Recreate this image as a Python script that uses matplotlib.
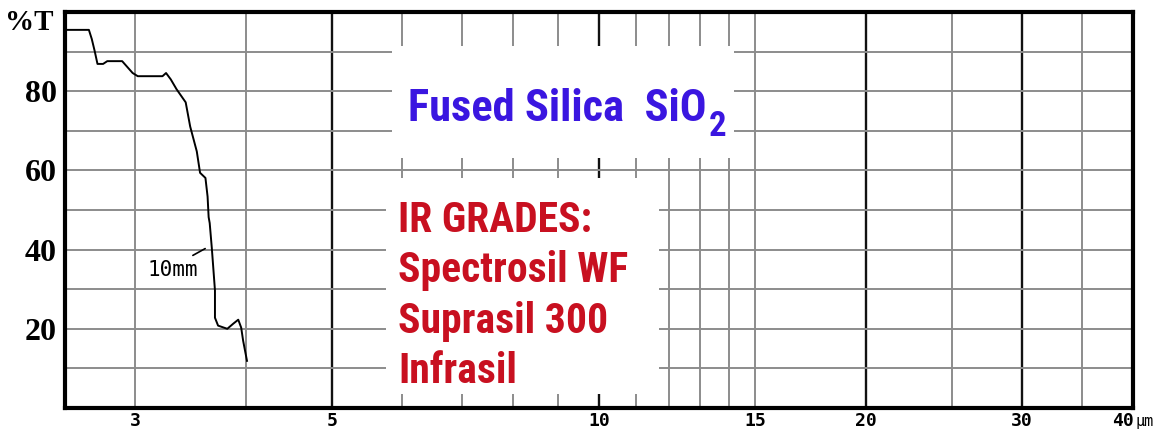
"""
Fused silica (SiO2) IR transmission chart.

%T of a 10 mm sample against wavelength on a log axis (2.5 - 40 um),
digitised from the vendor sheet, with the IR grade names overlaid.
"""

import matplotlib
matplotlib.use('Agg')
import matplotlib.pyplot as plt
import matplotlib.transforms as mtransforms
from matplotlib import font_manager
from matplotlib.patches import Rectangle
from matplotlib.ticker import FixedLocator, NullLocator

# --- Transmission curve (10 mm sample) ---
WAVELENGTH_UM = [2.51, 2.66, 2.68, 2.70, 2.72, 2.76, 2.79, 2.90, 2.98, 3.02,
                 3.22, 3.25, 3.29, 3.34, 3.42, 3.46, 3.52, 3.55, 3.60, 3.62,
                 3.63, 3.64, 3.66, 3.69, 3.69, 3.72, 3.81, 3.87, 3.92, 3.95,
                 3.97, 4.01]
TRANSMISSION = [95.5, 95.5, 93.2, 90.2, 86.9, 86.9, 87.6, 87.6, 84.6, 83.8,
                83.8, 84.6, 83.0, 80.5, 77.2, 71.1, 64.8, 59.4, 58.1, 53.4,
                48.2, 46.7, 40.4, 29.7, 22.8, 20.8, 20.0, 21.3, 22.3, 20.3,
                17.0, 11.9]

# --- Axes / grid ---
X_TICKS = [3, 5, 10, 15, 20, 30, 40]
X_TICK_LABELS = ['3', '5', '10', '15', '20', '30', '40']
X_UNIT = '\u00b5m'
Y_TICKS = [20, 40, 60, 80]
GRID_MAJOR_X = [5, 10, 20, 30]
GRID_MINOR_X = [3, 4, 6, 7, 8, 9, 11, 12, 13, 14, 15, 25, 35]
GRID_Y = [10, 20, 30, 40, 50, 60, 70, 80, 90]

# --- Labels ---
TITLE = 'Fused Silica  SiO'
TITLE_SUB = '2'
GRADES = ['IR GRADES:', 'Spectrosil WF', 'Suprasil 300', 'Infrasil']
SAMPLE_LABEL = '10mm'

# white panels behind the labels: (x0, y0, x1, y1) in um / %T
TITLE_BOX = (5.84, 63.2, 14.2, 91.5)
GRADES_BOX = (5.76, 3.5, 11.7, 58.1)

BLUE = '#3a16e0'
RED = '#c81020'
GRID_GRAY = '#8c8c8c'


def pick_family(candidates, fallback='DejaVu Sans'):
    """Return the first installed font family out of candidates."""
    names = {f.name for f in font_manager.fontManager.ttflist}
    for name in candidates:
        if name in names:
            return name
    return fallback


def add_box(ax, box):
    x0, y0, x1, y1 = box
    ax.add_patch(Rectangle((x0, y0), x1 - x0, y1 - y0, facecolor='white',
                           edgecolor='none', zorder=2))


def plot_chart(save_path='out.png'):
    narrow = pick_family(['Roboto Condensed', 'Liberation Sans Narrow',
                          'Open Sans Condensed', 'DejaVu Sans Condensed'])
    serif = pick_family(['Liberation Serif', 'DejaVu Serif'])
    mono = pick_family(['DejaVu Sans Mono', 'Liberation Mono'])

    fig = plt.figure(figsize=(11.71, 4.32), dpi=100)
    ax = fig.add_axes([0.0555, 0.0556, 0.912, 0.9165])
    ax.set_xscale('log')
    ax.set_xlim(2.5, 40)
    ax.set_ylim(0, 100)

    # --- grid ---
    for x in GRID_MINOR_X:
        ax.axvline(x, color=GRID_GRAY, lw=1.4, zorder=1)
    for x in GRID_MAJOR_X:
        ax.axvline(x, color='#111111', lw=1.7, zorder=1)
    for y in GRID_Y:
        ax.axhline(y, color=GRID_GRAY, lw=1.4, zorder=1)

    add_box(ax, TITLE_BOX)
    add_box(ax, GRADES_BOX)

    # --- spectrum ---
    ax.plot(WAVELENGTH_UM, TRANSMISSION, color='black', lw=1.4, zorder=3)
    ax.annotate(SAMPLE_LABEL, xy=(3.62, 40.6), xytext=(3.31, 34.8),
                ha='center', va='center', fontsize=15, family=mono, zorder=4,
                arrowprops=dict(arrowstyle='-', lw=1.2, color='black',
                                relpos=(0.72, 1.0), shrinkA=3, shrinkB=2))

    # --- ticks ---
    ax.xaxis.set_major_locator(FixedLocator(X_TICKS))
    ax.xaxis.set_minor_locator(NullLocator())
    ax.set_xticklabels(X_TICK_LABELS, family=mono, fontweight='bold',
                       fontsize=13)
    ax.set_yticks(Y_TICKS)
    ax.set_yticklabels([str(v) for v in Y_TICKS], family=serif,
                       fontweight='bold', fontsize=23)
    ax.tick_params(axis='x', length=0, pad=3)
    ax.tick_params(axis='y', length=0, pad=6)

    # last x label is centred together with its unit, so nudge it left
    last = ax.get_xticklabels()[-1]
    last.set_transform(last.get_transform()
                       + mtransforms.ScaledTranslation(-0.10, 0, fig.dpi_scale_trans))
    ax.annotate(X_UNIT, xy=(1, 0), xycoords=last, xytext=(1, 1),
                textcoords='offset points', ha='left', va='bottom',
                family=mono, fontsize=11)

    left_data = mtransforms.blended_transform_factory(ax.transAxes, ax.transData)
    ax.text(-0.011, 97.3, '%T', transform=left_data, ha='right', va='center',
            family=serif, fontweight='bold', fontsize=21)

    for side in ax.spines.values():
        side.set_linewidth(3)
        side.set_color('black')
        side.set_zorder(5)

    # --- labels ---
    title = ax.text(6.09, 72.4, TITLE, ha='left', va='baseline', color=BLUE,
                    family=narrow, fontweight='bold', fontsize=32, zorder=4)
    ax.annotate(TITLE_SUB, xy=(1, 0), xycoords=title, xytext=(2, -4),
                textcoords='offset points', ha='left', va='baseline',
                color=BLUE, family=narrow, fontweight='bold', fontsize=25,
                zorder=4)

    for i, line in enumerate(GRADES):
        ax.text(5.94, 44.4 - i * 12.7, line, ha='left', va='baseline',
                color=RED, family=narrow, fontweight='bold', fontsize=30,
                zorder=4)

    fig.savefig(save_path, dpi=100)
    plt.close(fig)


if __name__ == "__main__":
    plot_chart('out.png')
